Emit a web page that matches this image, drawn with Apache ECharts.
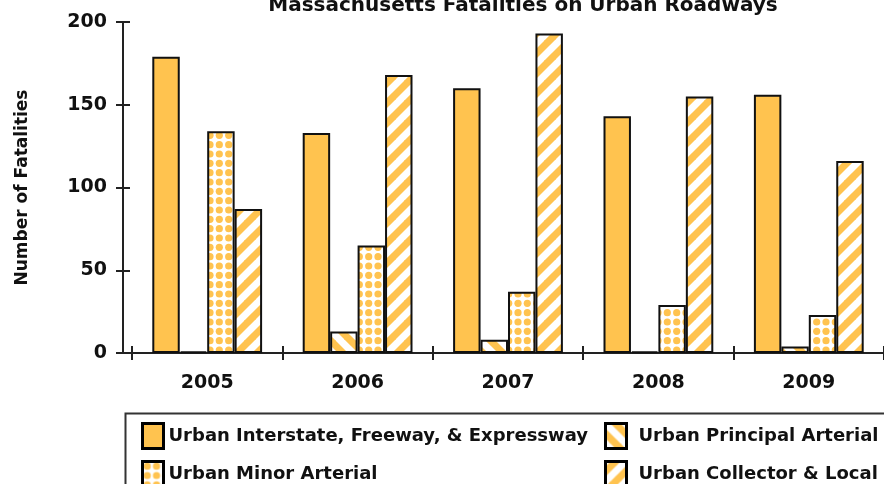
<!DOCTYPE html>
<html>
<head>
<meta charset="utf-8">
<script src="https://cdn.jsdelivr.net/npm/echarts@6/dist/echarts.min.js"></script>
<style>html,body{margin:0;padding:0;background:#fff;}#c{width:884px;height:484px;}</style>
</head>
<body>
<div id="c"></div>
<script>
const categories = ['2005', '2006', '2007', '2008', '2009'];
const seriesNames = ['Urban Interstate, Freeway, & Expressway', 'Urban Principal Arterial', 'Urban Minor Arterial', 'Urban Collector & Local'];
const interstate = [179, 133, 160, 143, 156];
const principal = [1, 13, 8, 1, 4];
const minor = [134, 65, 37, 29, 23];
const collector = [87, 168, 193, 155, 116];
const yTicks = [0, 50, 100, 150, 200];

const ORANGE = '#FFC34F';
const FONT = 'DejaVu Sans';

function stripePattern(dir) {
  const s = 20;
  const c = document.createElement('canvas');
  c.width = s; c.height = s;
  const g = c.getContext('2d');
  g.fillStyle = ORANGE;
  g.fillRect(0, 0, s, s);
  g.strokeStyle = '#ffffff';
  g.lineWidth = 7;
  for (let k = -1; k <= 1; k++) {
    g.beginPath();
    if (dir === '/') { g.moveTo(k * s - 2, s + 2); g.lineTo(k * s + s + 2, -2); }
    else { g.moveTo(k * s - 2, -2); g.lineTo(k * s + s + 2, s + 2); }
    g.stroke();
  }
  return { image: c, repeat: 'repeat' };
}
function dotPattern() {
  const s = 9.3;
  const c = document.createElement('canvas');
  c.width = 28; c.height = 28;
  const g = c.getContext('2d');
  g.fillStyle = '#ffffff';
  g.fillRect(0, 0, 28, 28);
  g.fillStyle = ORANGE;
  for (let i = 0; i < 3; i++) for (let j = 0; j < 3; j++) {
    g.beginPath();
    g.arc(4.7 + i * s, 4.7 + j * s, 3.6, 0, Math.PI * 2);
    g.fill();
  }
  return { image: c, repeat: 'repeat' };
}

const fills = [ORANGE, stripePattern('\\'), dotPattern(), stripePattern('/')];
const values = [interstate, principal, minor, collector];

const chart = echarts.init(document.getElementById('c'), null, { renderer: 'canvas' });
const txt = { fontFamily: FONT, fontWeight: 'bold', color: '#111' };

const yBase = { type: 'value', min: 0, max: 200, interval: 50, position: 'left', offset: 9, splitLine: { show: false } };

const legendBase = {
  orient: 'vertical', top: 422, padding: 0, height: 80, itemWidth: 21, itemHeight: 25, itemGap: 10,
  icon: 'rect', itemStyle: { borderColor: '#000', borderWidth: 3 }
};

chart.setOption({
  animation: false,
  backgroundColor: '#fff',
  title: {
    text: 'Massachusetts Fatalities on Urban Roadways',
    left: 518, top: -9, textAlign: 'center',
    textStyle: Object.assign({ fontSize: 20 }, txt)
  },
  grid: { left: 132, right: -4, top: 22, bottom: 131, containLabel: false },
  xAxis: [{
    type: 'category', data: categories, position: 'bottom',
    axisLine: { lineStyle: { color: '#222', width: 2 } },
    axisTick: { show: true, length: 7, lineStyle: { color: '#222', width: 2 } },
    axisLabel: Object.assign({ fontSize: 19, margin: 21 }, txt)
  }, {
    type: 'category', data: categories, position: 'bottom',
    axisLine: { show: false },
    axisTick: { show: true, inside: true, length: 7, lineStyle: { color: '#222', width: 2 } },
    axisLabel: { show: false }
  }],
  yAxis: [Object.assign({}, yBase, {
    axisLine: { show: true, lineStyle: { color: '#222', width: 2 } },
    axisTick: { show: true, length: 7, lineStyle: { color: '#222', width: 2 } },
    axisLabel: Object.assign({ fontSize: 19, margin: 16 }, txt),
    name: 'Number of Fatalities', nameLocation: 'middle', nameGap: 92, nameRotate: 90,
    nameTextStyle: Object.assign({ fontSize: 17 }, txt)
  }), Object.assign({}, yBase, {
    axisLine: { show: false },
    axisTick: { show: true, inside: true, length: 7, lineStyle: { color: '#222', width: 2 } },
    axisLabel: { show: false }
  })],
  legend: [
    Object.assign({ left: 141, data: [seriesNames[0], seriesNames[2]],
      textStyle: Object.assign({ fontSize: 18 }, txt) }, legendBase),
    Object.assign({ left: 604, data: [seriesNames[1], seriesNames[3]],
      textStyle: Object.assign({ fontSize: 18, padding: [0, 0, 0, 7] }, txt) }, legendBase)
  ],
  graphic: [{
    type: 'rect', left: 123, top: 411, z: -1, silent: true,
    shape: { width: 800, height: 120 },
    style: { fill: 'none', stroke: '#333', lineWidth: 2 }
  }, {
    type: 'line', silent: true,
    shape: { x1: 122, y1: 353, x2: 133, y2: 353 },
    style: { stroke: '#222', lineWidth: 2 }
  }],
  series: seriesNames.map((n, i) => ({
    name: n, type: 'bar', data: values[i],
    barGap: 0, barCategoryGap: '27%',
    itemStyle: { color: fills[i], borderColor: '#111', borderWidth: 2 }
  }))
});
</script>
</body>
</html>
